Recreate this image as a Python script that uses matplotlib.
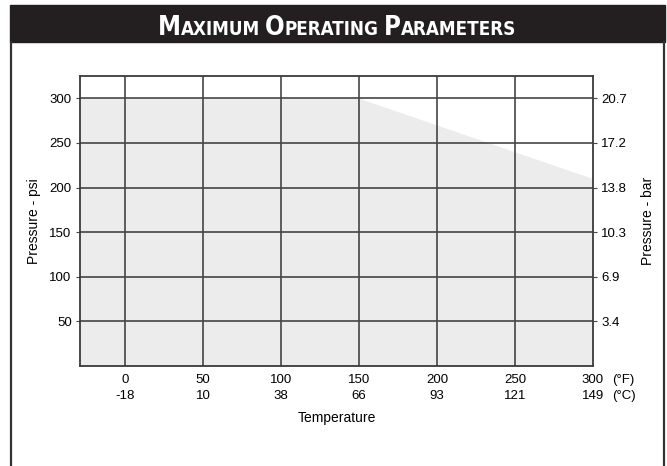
import matplotlib
matplotlib.use('Agg')
import matplotlib.pyplot as plt
from matplotlib.patches import Rectangle
from matplotlib.lines import Line2D

# data
temps_f = [0, 50, 100, 150, 200, 250, 300]
temps_c = [-18, 10, 38, 66, 93, 121, 149]
psi_ticks = [50, 100, 150, 200, 250, 300]
bar_labels = ['3.4', '6.9', '10.3', '13.8', '17.2', '20.7']
# max pressure curve (psi vs °F)
curve_f = [-29, 150, 300]
curve_psi = [300, 300, 210]

plt.rcParams['font.family'] = ['Liberation Sans', 'DejaVu Sans']

W, H = 667, 466
fig = plt.figure(figsize=(W / 100, H / 100), dpi=100)

# title bar + outer frame
fig.patches.append(Rectangle((10 / W, 1 - 42 / H), 655 / W, 37 / H,
                             transform=fig.transFigure, color='#231f20', zorder=0))
for xp in (11, 664):
    fig.lines.append(Line2D([xp / W, xp / W], [0, 1 - 42 / H], transform=fig.transFigure,
                            color='#333333', lw=1.6))

# small caps title, built piece by piece
pieces = [('M', 18.5), ('AXIMUM', 13.5), (' ', 13.5), ('O', 18.5), ('PERATING', 13.5), (' ', 13.5),
          ('P', 18.5), ('ARAMETERS', 13.5)]
renderer = fig.canvas.get_renderer()
texts = []
x = 0
for s, size in pieces:
    t = fig.text(0, 1 - 35 / H, s, fontsize=size, color='white', fontweight='bold',
                 family='DejaVu Sans', fontstretch='condensed', va='baseline', ha='left')
    if s == ' ':
        w = 5
        t.set_text('')
    else:
        w = t.get_window_extent(renderer).width
    texts.append((t, x))
    x += w
start = 337 - x / 2
for t, off in texts:
    t.set_x((start + off) / W)

ax = fig.add_axes([80 / W, 1 - 366 / H, (593 - 80) / W, (366 - 76) / H])
ax.fill_between(curve_f, curve_psi, 0, color='#ececec', lw=0, zorder=0)
ax.set_xlim(-29, 300)
ax.set_ylim(0, 325)

gc = '#454545'
for t in temps_f[:-1]:
    ax.axvline(t, color=gc, lw=1.2, zorder=1)
for p in psi_ticks:
    ax.axhline(p, color=gc, lw=1.2, zorder=1)
for sp in ax.spines.values():
    sp.set_color('#3a3a3a')
    sp.set_linewidth(1.3)

ax.set_xticks(temps_f, labels=[f'{f}\n{c}' for f, c in zip(temps_f, temps_c)])
ax.tick_params(axis='x', length=0, pad=6, labelsize=9.5)
for lab in ax.get_xticklabels():
    lab.set_linespacing(1.45)
ax.annotate('(°F)\n(°C)', xy=(1, 0), xycoords='axes fraction', xytext=(14, -6),
            textcoords='offset points', ha='left', va='top', fontsize=9.5, linespacing=1.45)

ax.set_yticks(psi_ticks)
ax.tick_params(axis='y', length=3, color=gc, pad=3, labelsize=9.5)
ax.set_ylabel('Pressure - psi', fontsize=10, labelpad=6)
ax.set_xlabel('Temperature', fontsize=10, labelpad=6)

ax2 = ax.twinx()
ax2.set_ylim(0, 325)
ax2.set_yticks(psi_ticks, labels=bar_labels)
ax2.tick_params(axis='y', length=3, color=gc, pad=3, labelsize=9.5)
ax2.set_ylabel('Pressure - bar', fontsize=10, labelpad=10)
for sp in ax2.spines.values():
    sp.set_visible(False)

fig.savefig('out.png', dpi=100)
